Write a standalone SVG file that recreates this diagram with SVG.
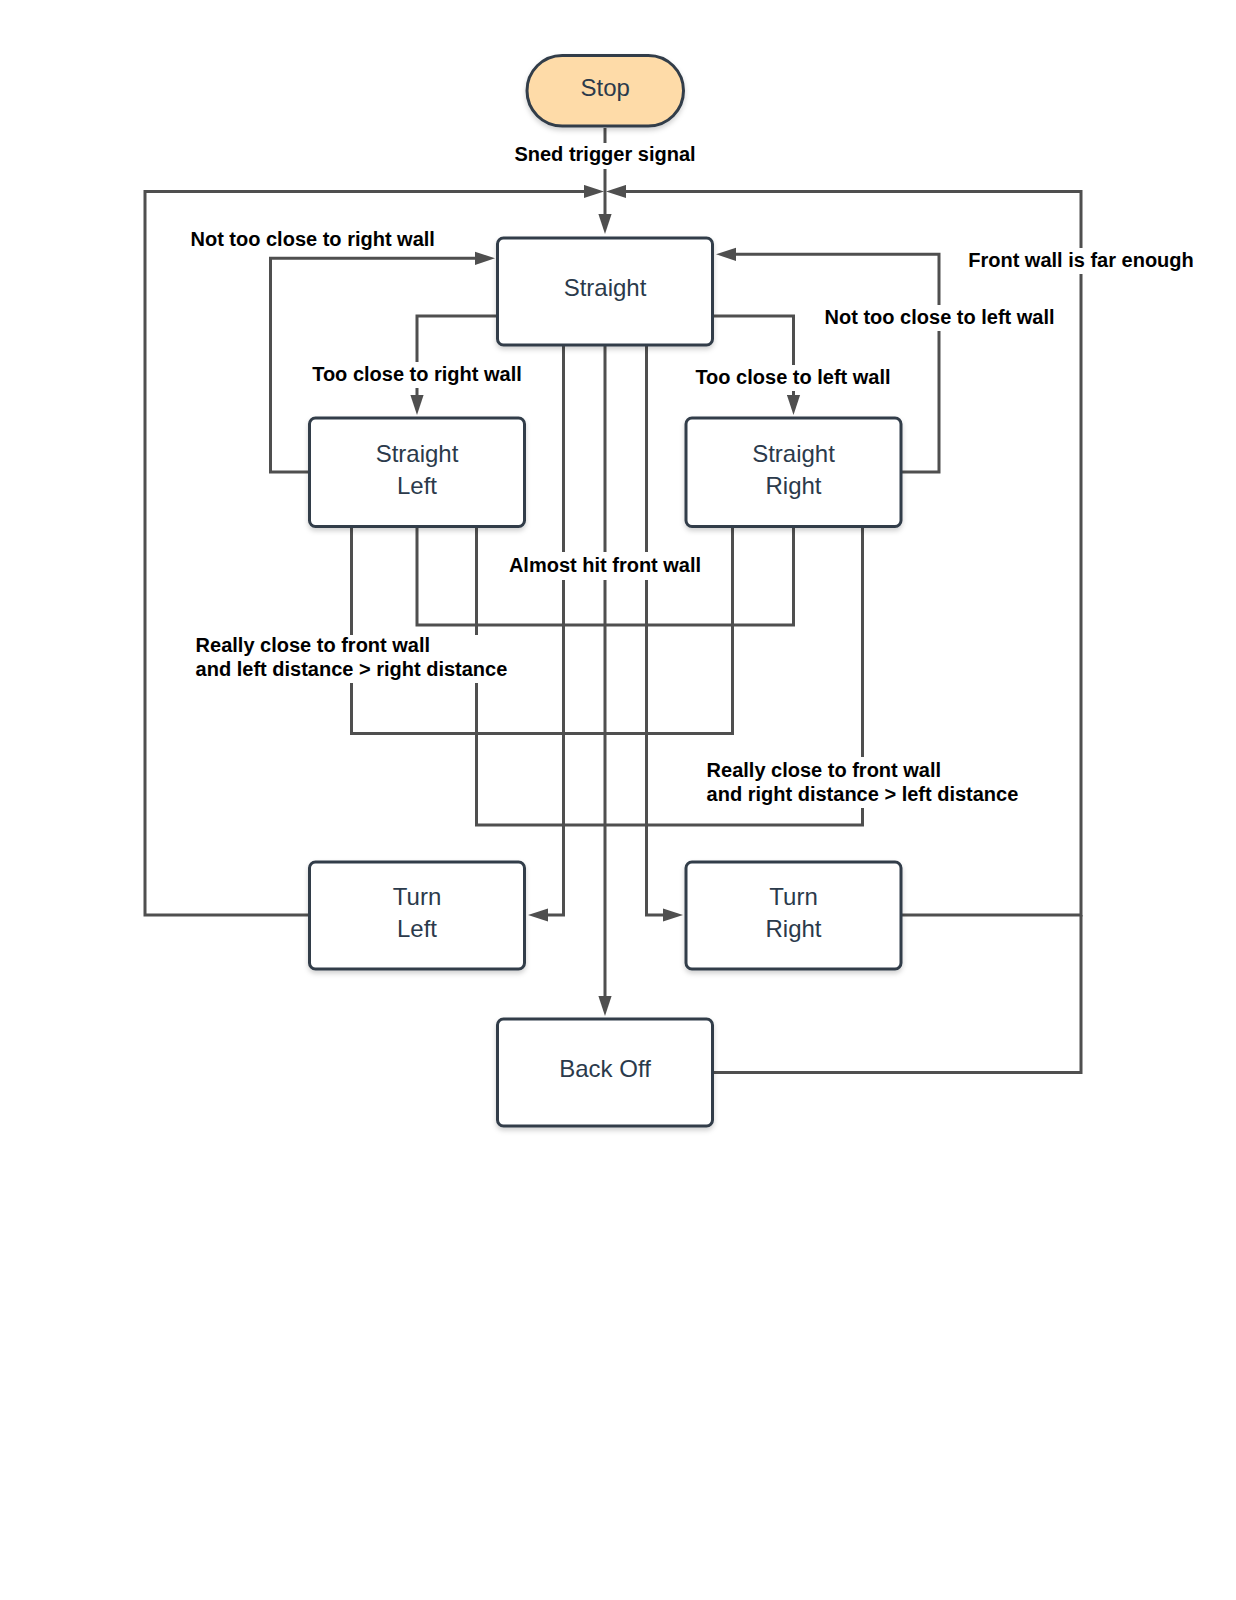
<svg xmlns="http://www.w3.org/2000/svg" width="1236" height="1600" viewBox="0 0 1236 1600">
<style>
.bg{fill:#ffffff}
.conn{fill:none;stroke:#4f4f4f;stroke-width:3;stroke-linejoin:miter}
.arr{marker-end:url(#ah)}
.lblbg{fill:#ffffff}
.lbl{font-family:"Liberation Sans",Arial,sans-serif;font-size:20px;font-weight:bold;fill:#000000}
.node{fill:#ffffff;stroke:#313d4a;stroke-width:3;filter:url(#sh)}
.start{fill:#fedba8;stroke:#313d4a;stroke-width:3;filter:url(#sh)}
.ntxt{font-family:"Liberation Sans",Arial,sans-serif;font-size:24px;fill:#2b3a4b;text-anchor:middle}
</style>
<defs>
<marker id="ah" markerUnits="userSpaceOnUse" markerWidth="20" markerHeight="14" viewBox="0 0 20 14" refX="12" refY="7" orient="auto">
<path d="M0,0.4 L20,7 L0,13.6 z" fill="#4f4f4f"/>
</marker>
<filter id="sh" x="-10%" y="-10%" width="120%" height="130%">
<feDropShadow dx="0" dy="3" stdDeviation="2.5" flood-color="#000000" flood-opacity="0.18"/>
</filter>
</defs>
<rect class="bg" x="0" y="0" width="1236" height="1600"/>

<g id="connectors">
<path id="c-stop-straight" class="conn arr" d="M605,128 V226"/>
<path id="c-turnleft-straight" class="conn arr" d="M309,915 H145 V191.5 H596"/>
<path id="c-turnright-straight" class="conn arr" d="M901,915 H1081 V191.5 H614"/>
<path id="c-backoff-straight" class="conn" d="M713,1072.5 H1081 V915"/>
<path id="c-sl-straight" class="conn arr" d="M309,472 H270.5 V258.3 H487"/>
<path id="c-straight-sl" class="conn arr" d="M497,316 H417 V407"/>
<path id="c-straight-sr" class="conn arr" d="M713,316 H793.5 V407"/>
<path id="c-sr-straight" class="conn arr" d="M901,472 H939 V254.3 H724"/>
<path id="c-straight-backoff" class="conn arr" d="M605,346 V1008"/>
<path id="c-straight-turnleft" class="conn arr" d="M563.5,346 V915 H536"/>
<path id="c-straight-turnright" class="conn arr" d="M646.5,346 V915 H675"/>
<path id="c-sl-sr" class="conn" d="M417,527 V625 H793.5 V527"/>
<path id="c-sl-sr-left" class="conn" d="M351.5,527 V733.5 H732.5 V527"/>
<path id="c-sl-sr-right" class="conn" d="M476.5,527 V825 H862.5 V527"/>
</g>

<g id="connector-labels">
<rect class="lblbg" x="513" y="143" width="184" height="26"/>
<text class="lbl" x="605" y="161" text-anchor="middle">Sned trigger signal</text>
<rect class="lblbg" x="189" y="227" width="248" height="26"/>
<text class="lbl" x="312.7" y="246.3" text-anchor="middle">Not too close to right wall</text>
<rect class="lblbg" x="967" y="248" width="228" height="26"/>
<text class="lbl" x="1081" y="267" text-anchor="middle">Front wall is far enough</text>
<rect class="lblbg" x="824" y="305" width="232" height="26"/>
<text class="lbl" x="939.6" y="324.3" text-anchor="middle">Not too close to left wall</text>
<rect class="lblbg" x="311" y="362" width="213" height="26"/>
<text class="lbl" x="417" y="381.3" text-anchor="middle">Too close to right wall</text>
<rect class="lblbg" x="694" y="365" width="199" height="26"/>
<text class="lbl" x="793" y="384.3" text-anchor="middle">Too close to left wall</text>
<rect class="lblbg" x="508" y="552" width="194" height="28"/>
<text class="lbl" x="605" y="571.7" text-anchor="middle">Almost hit front wall</text>
<rect class="lblbg" x="194" y="635" width="315" height="48"/>
<text class="lbl" x="195.6" y="651.7">Really close to front wall</text>
<text class="lbl" x="195.6" y="676">and left distance &gt; right distance</text>
<rect class="lblbg" x="705" y="757" width="315" height="51"/>
<text class="lbl" x="706.6" y="776.7">Really close to front wall</text>
<text class="lbl" x="706.6" y="801">and right distance &gt; left distance</text>
</g>

<g id="node-stop">
<rect class="start" x="527" y="55.5" width="156.5" height="70.5" rx="35.2"/>
<text class="ntxt" x="605.2" y="96">Stop</text>
</g>
<g id="node-straight">
<rect class="node" x="497.5" y="238" width="215" height="107" rx="6"/>
<text class="ntxt" x="605" y="296">Straight</text>
</g>
<g id="node-straight-left">
<rect class="node" x="309.5" y="418" width="215" height="108.5" rx="6"/>
<text class="ntxt" x="417" y="462">Straight</text>
<text class="ntxt" x="417" y="494">Left</text>
</g>
<g id="node-straight-right">
<rect class="node" x="686" y="418" width="215" height="108.5" rx="6"/>
<text class="ntxt" x="793.5" y="462">Straight</text>
<text class="ntxt" x="793.5" y="494">Right</text>
</g>
<g id="node-turn-left">
<rect class="node" x="309.5" y="862" width="215" height="107" rx="6"/>
<text class="ntxt" x="417" y="905">Turn</text>
<text class="ntxt" x="417" y="937">Left</text>
</g>
<g id="node-turn-right">
<rect class="node" x="686" y="862" width="215" height="107" rx="6"/>
<text class="ntxt" x="793.5" y="905">Turn</text>
<text class="ntxt" x="793.5" y="937">Right</text>
</g>
<g id="node-back-off">
<rect class="node" x="497.5" y="1019" width="215" height="107" rx="6"/>
<text class="ntxt" x="605" y="1077">Back Off</text>
</g>
</svg>
